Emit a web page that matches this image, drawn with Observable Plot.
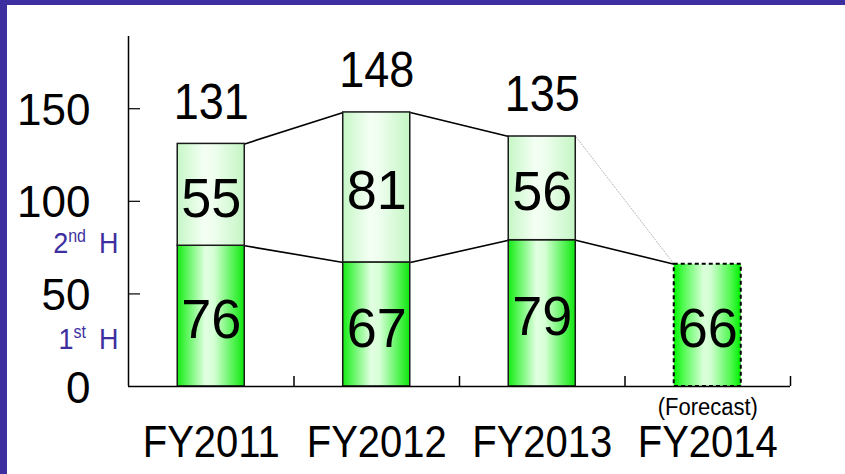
<!DOCTYPE html>
<html><head><meta charset="utf-8">
<script src="https://cdn.jsdelivr.net/npm/d3@7"></script>
<script src="https://cdn.jsdelivr.net/npm/@observablehq/plot@0.6"></script>
<style>
html,body{margin:0;padding:0;background:#fff;}
#wrap{position:relative;width:845px;height:474px;overflow:hidden;background:#fff;}
#chart{position:absolute;left:0;top:0;}
#frame{position:absolute;left:0;top:0;width:845px;height:474px;box-sizing:border-box;border-left:7px solid #3d2f9f;border-top:5px solid #3d2f9f;pointer-events:none;}
</style></head><body><div id="wrap"><div id="chart"></div><div id="frame"></div></div>
<script>
// ---- data ----
const years = ["FY2011", "FY2012", "FY2013", "FY2014"];
const firstHalf = [76, 67, 79, 66];
const secondHalf = [55, 81, 56, null];
const isForecast = [false, false, false, true];
const yTicks = [0, 50, 100, 150];
const forecastNote = "(Forecast)";
const halfLabels = ["1st H", "2nd H"];

// ---- layout / style ----
const W = 845, H = 474, mL = 128, mR = 55, mT = 36, mB = 88;
const yMax = 189;
const barW = 0.405, hw = barW / 2;
const purple = "#3d2f9f";
const font = "'Liberation Sans', Arial, sans-serif";
const plotW = W - mL - mR;
const tickLenUnits = 10 * yMax / (H - mT - mB);

const rows = years.map((year, i) => ({
  i, year,
  h1: firstHalf[i],
  h2: secondHalf[i],
  total: firstHalf[i] + (secondHalf[i] || 0),
  forecast: isForecast[i]
}));
const actual = rows.filter(d => !d.forecast);
const fc = rows.filter(d => d.forecast);

const links = [];
for (let i = 0; i < rows.length - 1; i++) {
  links.push({x1: i + hw, x2: i + 1 - hw, y1: rows[i].total, y2: rows[i + 1].total, kind: rows[i + 1].forecast ? "thin" : "bold"});
  links.push({x1: i + hw, x2: i + 1 - hw, y1: rows[i].h1, y2: rows[i + 1].h1, kind: "bold"});
}
const segs = [];
rows.forEach(d => {
  segs.push({i: d.i, mid: d.h1 / 2, v: d.h1});
  if (d.h2 != null) segs.push({i: d.i, mid: d.h1 + d.h2 / 2, v: d.h2});
});
const halfRows = halfLabels.map((t, k) => ({t, k}));

const svg = Plot.plot({
  width: W, height: H,
  marginLeft: mL, marginRight: mR, marginTop: mT, marginBottom: mB,
  style: {fontFamily: font, background: "transparent", overflow: "visible", color: "#000"},
  x: {type: "linear", domain: [-0.5, years.length - 0.5], axis: null},
  y: {domain: [0, yMax], axis: null},
  marks: [
    // connector lines
    Plot.link(links.filter(d => d.kind === "bold"), {x1: "x1", x2: "x2", y1: "y1", y2: "y2", stroke: "#000", strokeWidth: 1.6}),
    Plot.link(links.filter(d => d.kind === "thin"), {x1: "x1", x2: "x2", y1: "y1", y2: "y2", stroke: "#9a9a9a", strokeWidth: 0.7, strokeDasharray: "2,1"}),
    // bars
    Plot.rectY(actual, {x1: d => d.i - hw, x2: d => d.i + hw, y1: 0, y2: d => d.h1, fill: "url(#gFirst)", stroke: "#1a1a1a", strokeWidth: 1.5}),
    Plot.rectY(actual, {x1: d => d.i - hw, x2: d => d.i + hw, y1: d => d.h1, y2: d => d.total, fill: "url(#gSecond)", stroke: "#1a1a1a", strokeWidth: 1.5}),
    Plot.rectY(fc, {x1: d => d.i - hw, x2: d => d.i + hw, y1: 0, y2: d => d.h1, fill: "url(#gFc)", stroke: "#000", strokeWidth: 2, strokeDasharray: "4,3"}),
    // axes
    Plot.ruleY([0], {stroke: "#000", strokeWidth: 1.5}),
    Plot.ruleX([-0.5], {stroke: "#000", strokeWidth: 1.5}),
    Plot.ruleX(rows, {x: d => d.i + 0.5, y1: 0, y2: tickLenUnits, stroke: "#000", strokeWidth: 1.5}),
    Plot.ruleY(yTicks.filter(v => v > 0), {insetRight: plotW - 12, stroke: "#000", strokeWidth: 1.2}),
    Plot.text(yTicks, {y: d => d, frameAnchor: "left", dx: -38, dy: 2, textAnchor: "end", lineAnchor: "middle", text: d => String(d), fontSize: 44, fill: "#000"}),
    // value labels
    Plot.text(segs, {x: "i", y: "mid", text: d => String(d.v), fontSize: 54, dy: 4, fill: "#000"}),
    Plot.text(actual, {x: "i", y: "total", text: d => String(d.total), fontSize: 45, dy: -41, fill: "#000"}),
    // category labels
    Plot.text(rows, {x: "i", text: "year", frameAnchor: "bottom", lineAnchor: "middle", dy: 56, fontSize: 40, fill: "#000"}),
    Plot.text(fc, {x: "i", text: () => forecastNote, frameAnchor: "bottom", lineAnchor: "middle", dy: 21, fontSize: 22, fill: "#000"}),
    // half labels
    Plot.text(halfRows, {y: d => [25.4, 77.5][d.k], text: "t", frameAnchor: "left", lineAnchor: "middle", dx: -10, textAnchor: "end", fontSize: 27, fill: purple})
  ]
});

// gradients
const defs = d3.select(svg).insert("defs", ":first-child");
function grad(id, stops) {
  const g = defs.append("linearGradient").attr("id", id).attr("x1", "0").attr("x2", "1").attr("y1", "0").attr("y2", "0");
  stops.forEach(([o, c]) => g.append("stop").attr("offset", o).attr("stop-color", c));
}
grad("gFirst", [["0%", "#14ec14"], ["12%", "#4ff44f"], ["42%", "#e2ffe2"], ["55%", "#d6ffd6"], ["85%", "#4cf24c"], ["100%", "#10e610"]]);
grad("gSecond", [["0%", "#c6f7c6"], ["40%", "#f4fff4"], ["55%", "#eefeee"], ["100%", "#c4f6c4"]]);
grad("gFc", [["0%", "#00f800"], ["15%", "#55fa55"], ["45%", "#dcffdc"], ["55%", "#d2ffd2"], ["85%", "#4ff84f"], ["100%", "#00f000"]]);

// superscripts for half labels
d3.select(svg).selectAll("text").each(function () {
  const m = this.textContent.match(/^(\d)(st|nd|rd|th) (H)$/);
  if (!m) return;
  const t = d3.select(this);
  t.text(null);
  t.append("tspan").text(m[1]);
  t.append("tspan").attr("font-size", 16).attr("dy", -10).text(m[2]);
  t.append("tspan").attr("dy", 10).attr("dx", 13).text(m[3]);
});

document.getElementById("chart").appendChild(svg);

// vertical stretch of some labels, as in the reference typeface
function stretch(fontSize, k) {
  d3.select(svg).selectAll(`g[font-size="${fontSize}"] text`).each(function () {
    const b = this.getBBox();
    const cy = b.y + b.height / 2;
    const prev = this.getAttribute("transform") || "";
    this.setAttribute("transform", `${prev} translate(0,${cy}) scale(1,${k}) translate(0,${-cy})`);
  });
}
stretch(40, 1.12);
stretch(45, 1.1);
stretch(54, 1.04);
stretch(27, 1.1);
stretch(22, 1.1);
</script>
</body></html>
